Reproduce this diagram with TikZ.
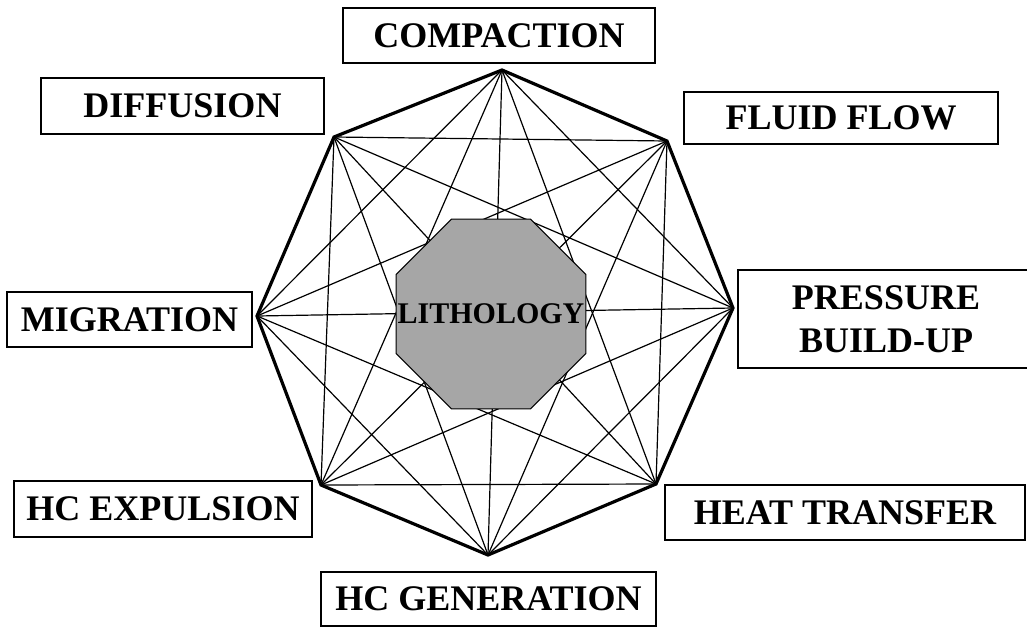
\documentclass[tikz,border=0pt]{standalone}
\usepackage{fontspec}
\setmainfont{Liberation Serif}
\usetikzlibrary{positioning, shapes.geometric}

\begin{document}
\begin{tikzpicture}[
x=0.5pt, y=-0.5pt,
box/.style={rectangle, draw, line width=0.8pt, align=center, inner sep=0pt, minimum height=27.5pt, font=\fontsize{18}{21.5}\selectfont\bfseries},
chord/.style={line width=0.6pt},
rim/.style={line width=1.6pt, line join=miter},
core/.style={regular polygon, regular polygon sides=8, draw, line width=0.5pt, fill=black!35, inner sep=0pt, minimum size=102.8pt},
coretext/.style={font=\fontsize{15}{15}\selectfont\bfseries, inner sep=0pt}
]

\path[use as bounding box, fill=white] (0,0) rectangle (1027,627);

\foreach \name/\px/\py in {v1/502/70, v2/667/141, v3/733/308, v4/656/484, v5/488/555, v6/321/485, v7/257/316, v8/334/137}
  \coordinate (\name) at (\px,\py);

\foreach \i in {1,...,7} {
  \pgfmathtruncatemacro\nexti{\i+1}
  \foreach \j in {\nexti,...,8}
    \draw[chord] (v\i) -- (v\j);
}
\draw[rim] (v1) -- (v2) -- (v3) -- (v4) -- (v5) -- (v6) -- (v7) -- (v8) -- cycle;

\node[core] (litho_core) at (491,314) {};
\node[coretext] (litho) at (litho_core) {LITHOLOGY};

\node[box, minimum width=156pt] (proc_comp) at (499,35.5) {COMPACTION};
\node[box, minimum width=141.5pt, minimum height=28pt] (proc_diff) at (182.5,106) {DIFFUSION};
\node[box, minimum width=157pt, minimum height=26pt] (proc_fluid) at (841,118) {FLUID FLOW};
\node[box, minimum width=148pt, minimum height=49pt] (proc_press) at (886,319) {PRESSURE \\ BUILD-UP};
\node[box, minimum width=122.5pt] (proc_migr) at (129.5,319.5) {MIGRATION};
\node[box, minimum width=149pt, minimum height=28pt] (proc_expul) at (163,509) {HC EXPULSION};
\node[box, minimum width=180pt] (proc_heat) at (845,512.5) {HEAT TRANSFER};
\node[box, minimum width=167.5pt, minimum height=27pt] (proc_gen) at (488.5,599) {HC GENERATION};

\end{tikzpicture}
\end{document}
